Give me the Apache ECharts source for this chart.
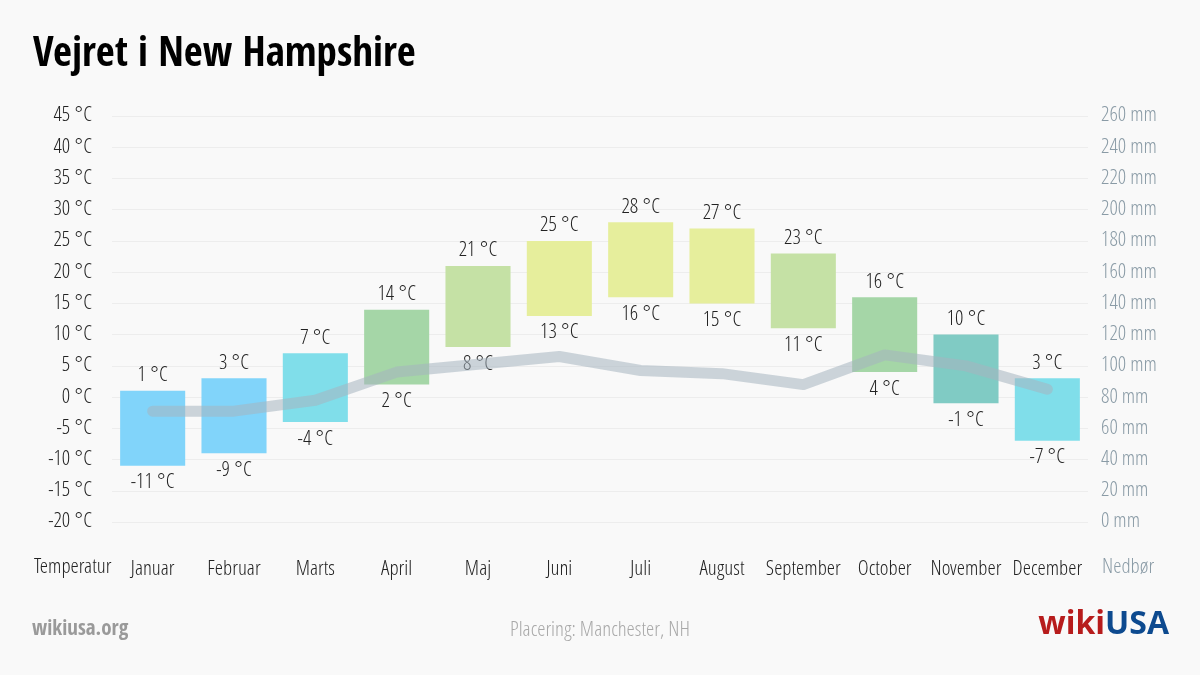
<!DOCTYPE html>
<html>
<head>
<meta charset="utf-8">
<script src="https://cdn.jsdelivr.net/npm/echarts@6/dist/echarts.min.js"></script>
<style>
html,body{margin:0;padding:0;background:#f9f9f9;}
#c{width:1200px;height:675px;}
</style>
</head>
<body>
<div id="c"></div>
<script>
var months = ['Januar','Februar','Marts','April','Maj','Juni','Juli','August','September','October','November','December'];
var tempMax = [1, 3, 7, 14, 21, 25, 28, 27, 23, 16, 10, 3];
var tempMin = [-11, -9, -4, 2, 8, 13, 16, 15, 11, 4, -1, -7];
var precip = [71, 71, 78, 96, 101, 106, 97, 95, 88, 107, 100, 85];
var barColors = ['#81d4fa','#81d4fa','#80deea','#a5d6a7','#c5e1a5','#e6ee9c','#e6ee9c','#e6ee9c','#c5e1a5','#a5d6a7','#80cbc4','#80deea'];
var tempTicks = {min: -20, max: 45, interval: 5};
var precipTicks = {min: 0, max: 260, interval: 20};

var LIGHT = '"Open Sans Condensed Light","Open Sans",sans-serif';
var BOLD = '"Open Sans Condensed","Open Sans",sans-serif';
var FS = 21;

var chart = echarts.init(document.getElementById('c'));
var barData = months.map(function(m, i){ return [i, tempMin[i], tempMax[i]]; });

chart.setOption({
  backgroundColor: '#f9f9f9',
  animation: false,
  grid: {left: 112, right: 112, top: 116, bottom: 153, containLabel: false},
  title: {
    text: 'Vejret i New Hampshire',
    left: 28, top: 30,
    textStyle: {fontFamily: BOLD, fontSize: 41, fontWeight: 'bold', color: '#000'}
  },
  xAxis: {
    type: 'category',
    data: months,
    axisLine: {show: false},
    axisTick: {show: false},
    axisLabel: {interval: 0, color: '#222', fontFamily: LIGHT, fontSize: FS, margin: 37}
  },
  yAxis: [{
    type: 'value',
    min: tempTicks.min, max: tempTicks.max, interval: tempTicks.interval,
    axisLine: {show: false}, axisTick: {show: false},
    splitLine: {lineStyle: {color: '#ededed', width: 1}},
    axisLabel: {color: '#222', fontFamily: LIGHT, fontSize: FS, margin: 20, padding: [4, 0, 0, 0],
      formatter: function(v){ return v + ' °C'; }}
  }, {
    type: 'value',
    min: precipTicks.min, max: precipTicks.max, interval: precipTicks.interval,
    axisLine: {show: false}, axisTick: {show: false},
    splitLine: {show: false},
    axisLabel: {color: '#8a9ba6', fontFamily: LIGHT, fontSize: FS, margin: 13, padding: [4, 0, 0, 0],
      formatter: function(v){ return v + ' mm'; }}
  }],
  series: [{
    type: 'custom',
    yAxisIndex: 0,
    data: barData,
    z: 2,
    renderItem: function(params, api){
      var idx = api.value(0);
      var lo = api.coord([idx, api.value(1)]);
      var hi = api.coord([idx, api.value(2)]);
      var w = api.size([1, 0])[0] * 0.8;
      return {
        type: 'group',
        children: [{
          type: 'rect',
          shape: {x: hi[0] - w/2, y: hi[1], width: w, height: lo[1] - hi[1]},
          style: {fill: barColors[params.dataIndex]}
        }, {
          type: 'text',
          style: {text: api.value(2) + ' °C', x: hi[0], y: hi[1] - 15, align: 'center', verticalAlign: 'middle',
            fill: '#222', font: FS + 'px ' + LIGHT}
        }, {
          type: 'text',
          style: {text: api.value(1) + ' °C', x: lo[0], y: lo[1] + 17, align: 'center', verticalAlign: 'middle',
            fill: '#222', font: FS + 'px ' + LIGHT}
        }]
      };
    }
  }, {
    type: 'line',
    yAxisIndex: 1,
    data: precip,
    z: 3,
    symbol: 'none',
    lineStyle: {color: 'rgba(165,180,192,0.55)', width: 11, cap: 'round', join: 'round'}
  }],
  graphic: [{
    type: 'text', left: 34, top: 557,
    style: {text: 'Temperatur', fill: '#222', font: FS + 'px ' + LIGHT}
  }, {
    type: 'text', left: 1102, top: 557,
    style: {text: 'Nedbør', fill: '#8a9ba6', font: FS + 'px ' + LIGHT}
  }, {
    type: 'text', left: 32, top: 619,
    style: {text: 'wikiusa.org', fill: '#9a9a9a', font: 'bold 21px ' + BOLD}
  }, {
    type: 'text', left: 'center', top: 620,
    style: {text: 'Placering: Manchester, NH', fill: '#a8a8a8', font: '21px ' + LIGHT}
  }, {
    type: 'text', right: 31, top: 609,
    style: {
      text: '{a|wiki}{b|USA}',
      rich: {
        a: {fill: '#b71c1c', font: 'bold 32px "Open Sans",sans-serif'},
        b: {fill: '#0d4a8f', font: 'bold 32px "Open Sans",sans-serif'}
      }
    }
  }]
});
</script>
</body>
</html>
